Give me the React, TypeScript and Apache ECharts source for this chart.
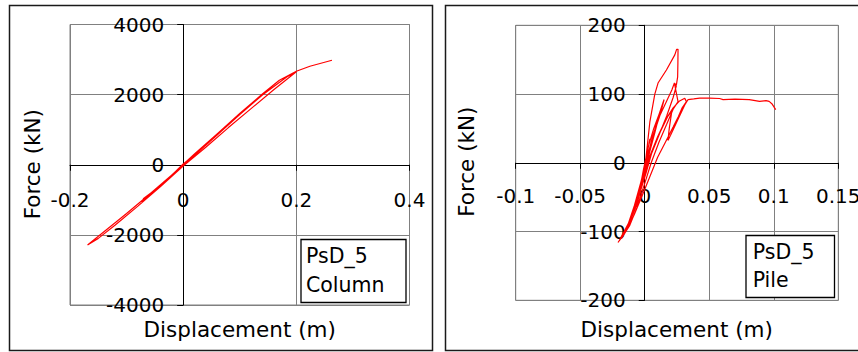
import React, { useEffect, useRef } from "react";
import * as echarts from "echarts";

// Column hysteresis (PsD_5 Column)
const columnDisp = [0, 0.02, 0.04, 0.02, 0, -0.02, -0.04, -0.02, 0, 0.03, 0.06, 0.09, 0.06, 0.03, 0, -0.03, -0.06, -0.073, -0.07, -0.05, -0.02, 0.02, 0.06, 0.1, 0.14, 0.183, 0.2, 0.16, 0.12, 0.08, 0.04, 0, -0.04, -0.08, -0.12, -0.15, -0.169, -0.14, -0.1, -0.06, -0.02, 0.02, 0.06, 0.1, 0.14, 0.17, 0.2, 0.224, 0.263];
const columnForce = [0, 300, 570, 280, 20, -300, -600, -320, -30, 420, 850, 1290, 880, 430, 10, -440, -880, -1060, -960, -720, -330, 270, 850, 1430, 1990, 2505, 2650, 2140, 1600, 1060, 500, -40, -620, -1180, -1720, -2100, -2286, -1910, -1390, -850, -290, 310, 880, 1460, 2020, 2410, 2666, 2810, 2980];

// Pile hysteresis (PsD_5 Pile)
const pileDisp = [0, 0.002, 0.004, 0.001, -0.002, -0.004, -0.001, 0.003, 0.007, 0.012, 0.008, 0.003, -0.002, -0.007, -0.011, -0.007, -0.002, 0.002, 0.006, 0.011, 0.015, 0.012, 0.007, 0.002, -0.003, -0.008, -0.013, -0.016, -0.012, -0.007, -0.002, 0.002, 0.006, 0.011, 0.017, 0.021, 0.023, 0.0245, 0.022, 0.017, 0.011, 0.005, 0, -0.005, -0.01, -0.014, -0.018, -0.0207, -0.017, -0.012, -0.006, -0.001, 0.002, 0.004, 0.0078, 0.0103, 0.0168, 0.0233, 0.0247, 0.0258, 0.0257, 0.0255, 0.0245, 0.023, 0.0258, 0.022, 0.017, 0.011, 0.005, 0, -0.006, -0.0116, -0.016, -0.02, -0.016, -0.011, -0.006, -0.001, 0.004, 0.01, 0.016, 0.022, 0.027, 0.031, 0.0323, 0.029, 0.026, 0.022, 0.016, 0.01, 0.004, -0.002, -0.008, -0.013, -0.018, -0.014, -0.009, -0.004, 0.001, 0.006, 0.012, 0.018, 0.021, 0.019, 0.018, 0.02, 0.024, 0.028, 0.031, 0.0336, 0.038, 0.0426, 0.05, 0.058, 0.0607, 0.07, 0.081, 0.089, 0.094, 0.0964, 0.0985, 0.1015];
const pileForce = [0, 15, 35, 5, -20, -40, -10, 25, 50, 75, 45, 10, -30, -60, -80, -62, -30, 0, 35, 70, 92, 70, 42, 10, -28, -62, -90, -102, -86, -60, -28, 8, 38, 66, 90, 106, 116, 112, 95, 68, 40, 12, -18, -50, -78, -95, -108, -116, -105, -88, -60, -25, 25, 60, 100, 116, 135, 157, 165, 165, 145, 125, 113, 116, 89, 78, 56, 30, 0, -30, -65, -91, -104, -114, -100, -82, -58, -25, 10, 38, 62, 80, 90, 94, 89, 80, 67, 52, 30, 8, -20, -48, -75, -95, -110, -96, -72, -45, -15, 18, 45, 68, 75, 50, 32.6, 40, 56, 72, 84, 92, 93, 94.2, 94, 93.5, 92, 92.5, 92, 89.3, 90.5, 89.3, 86, 77.4];

const colXTicks = { min: -0.2, max: 0.4, interval: 0.2 };
const colYTicks = { min: -4000, max: 4000, interval: 2000 };
const pileXTicks = { min: -0.1, max: 0.15, interval: 0.05 };
const pileYTicks = { min: -200, max: 200, interval: 100 };

const xTitle = "Displacement (m)";
const yTitle = "Force (kN)";
const colLegend = ["PsD_5", "Column"];
const pileLegend = ["PsD_5", "Pile"];

const FONT = "DejaVu Sans";

function zip(xs: number[], ys: number[]) {
  return xs.map((x, i) => [x, ys[i]]);
}

function fmt(v: number) {
  return String(parseFloat(v.toFixed(4)));
}

function xAxisCfg(grid: number, t: { min: number; max: number; interval: number }, margin: number, offset: number) {
  return {
    type: "value",
    gridIndex: grid,
    position: "bottom",
    offset,
    min: t.min,
    max: t.max,
    interval: t.interval,
    axisLine: { show: true, onZero: false, lineStyle: { color: "#000", width: 1 } },
    axisTick: { show: true, inside: false, length: 6, lineStyle: { color: "#000" } },
    axisLabel: { show: true, margin, color: "#000", fontFamily: FONT, fontSize: 20, formatter: fmt, hideOverlap: false, showMinLabel: true, showMaxLabel: true },
    splitLine: { show: true, lineStyle: { color: "#808080", width: 1 } },
  };
}

function yAxisCfg(grid: number, t: { min: number; max: number; interval: number }, offset: number) {
  return {
    type: "value",
    gridIndex: grid,
    position: "left",
    offset,
    min: t.min,
    max: t.max,
    interval: t.interval,
    axisLine: { show: true, onZero: false, lineStyle: { color: "#000", width: 1 } },
    axisTick: { show: true, inside: false, length: 6, lineStyle: { color: "#000" } },
    axisLabel: { show: true, margin: 19, color: "#000", fontFamily: FONT, fontSize: 20, formatter: fmt, hideOverlap: false, showMinLabel: true, showMaxLabel: true },
    splitLine: { show: true, lineStyle: { color: "#808080", width: 1 } },
  };
}

function txt(text: string, x: number, y: number, size: number, align: string, rotation = 0) {
  return {
    type: "text",
    x,
    y,
    rotation,
    z: 100,
    style: { text, fill: "#000", font: `${size}px "${FONT}"`, textAlign: align, textVerticalAlign: "middle" },
  };
}

const G0 = { left: 70, top: 24.5, width: 339.5, height: 280.5 };
const G1 = { left: 515.7, top: 25.3, width: 322.6, height: 275 };

export default function App() {
  const ref = useRef<HTMLDivElement>(null);
  useEffect(() => {
    if (!ref.current) return;
    const chart = echarts.init(ref.current, undefined, { renderer: "svg" });
    // positions of the zero lines inside each grid
    const y0off0 = -(G0.height * (0 - colYTicks.min) / (colYTicks.max - colYTicks.min));
    const x0off0 = -(G0.width * (0 - colXTicks.min) / (colXTicks.max - colXTicks.min));
    const y0off1 = -(G1.height * (0 - pileYTicks.min) / (pileYTicks.max - pileYTicks.min));
    const x0off1 = -(G1.width * (0 - pileXTicks.min) / (pileXTicks.max - pileXTicks.min));
    chart.setOption({
      animation: false,
      backgroundColor: "#fff",
      grid: [
        { ...G0, show: true, borderColor: "#808080", borderWidth: 1, containLabel: false, outerBoundsMode: "none" },
        { ...G1, show: true, borderColor: "#808080", borderWidth: 1, containLabel: false, outerBoundsMode: "none" },
      ],
      xAxis: [xAxisCfg(0, colXTicks, 25, y0off0), xAxisCfg(1, pileXTicks, 23, y0off1)],
      yAxis: [yAxisCfg(0, colYTicks, x0off0), yAxisCfg(1, pileYTicks, x0off1)],
      series: [
        {
          type: "line",
          xAxisIndex: 0,
          yAxisIndex: 0,
          data: zip(columnDisp, columnForce),
          showSymbol: false,
          symbol: "none",
          lineStyle: { color: "#ff0000", width: 1.2 },
          z: 5,
        },
        {
          type: "line",
          xAxisIndex: 1,
          yAxisIndex: 1,
          data: zip(pileDisp, pileForce),
          showSymbol: false,
          symbol: "none",
          lineStyle: { color: "#ff0000", width: 1.2 },
          z: 5,
        },
      ],
      graphic: [
        { type: "rect", z: 100, shape: { x: 9.5, y: 5.5, width: 423, height: 345 }, style: { fill: "none", stroke: "#1a1a1a", lineWidth: 1.5 } },
        { type: "rect", z: 100, shape: { x: 445.5, y: 5.5, width: 420, height: 345 }, style: { fill: "none", stroke: "#1a1a1a", lineWidth: 1.5 } },
        { type: "rect", z: 100, shape: { x: 301, y: 239.5, width: 105, height: 63 }, style: { fill: "#fff", stroke: "#000", lineWidth: 1.3 } },
        { type: "rect", z: 100, shape: { x: 746, y: 235.5, width: 88.5, height: 62 }, style: { fill: "#fff", stroke: "#000", lineWidth: 1.3 } },
        txt(colLegend[0], 306, 256, 20.5, "left"),
        txt(colLegend[1], 306, 284.7, 20.5, "left"),
        txt(pileLegend[0], 752.7, 251.5, 20.5, "left"),
        txt(pileLegend[1], 752.7, 279.5, 20.5, "left"),
        txt(xTitle, 239.7, 329.5, 21.5, "center"),
        txt(xTitle, 676.7, 329.5, 21.5, "center"),
        txt(yTitle, 32, 164.2, 21.5, "center", Math.PI / 2),
        txt(yTitle, 466.5, 161.7, 21.5, "center", Math.PI / 2),
      ],
    });
    return () => chart.dispose();
  }, []);
  return <div ref={ref} style={{ position: "absolute", left: 0, top: 0, width: 858, height: 352 }} />;
}
